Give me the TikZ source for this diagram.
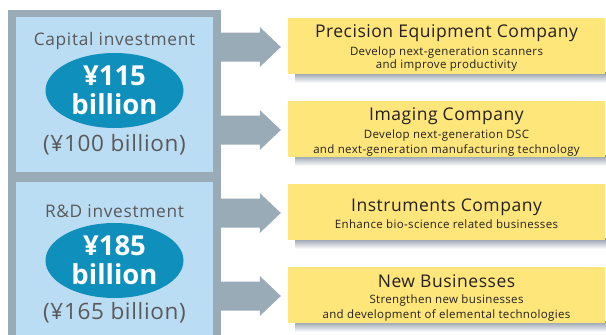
\documentclass[tikz,border=0pt]{standalone}
\usepackage{fontspec}
\setmainfont{Open Sans}
\usetikzlibrary{calc,shapes.geometric}
\definecolor{framegray}{HTML}{9AABB8}
\definecolor{panelblue}{HTML}{BBDDF3}
\definecolor{ovalblue}{HTML}{0E8FBC}
\definecolor{boxyellow}{HTML}{FFE67A}
\definecolor{shadowgray}{HTML}{8E99A6}
\definecolor{labelgray}{HTML}{58595B}
\definecolor{inkdark}{HTML}{231F20}
\begin{document}
\begin{tikzpicture}[x=1pt,y=-1pt,
  frame/.style={fill=framegray, inner sep=0, minimum width=213pt, minimum height=335pt},
  panel/.style={fill=panelblue, inner sep=0, minimum width=197pt},
  oval/.style={ellipse, fill=ovalblue, minimum width=138pt, minimum height=75pt, inner sep=0,
    text=white, font=\bfseries\fontsize{27.5}{30}\selectfont, align=center},
  plabel/.style={anchor=base, inner sep=0, text=labelgray, font=\fontsize{17.3}{19}\selectfont\addfontfeatures{LetterSpace=4}},
  amount/.style={anchor=base, inner sep=0, text=labelgray, font=\fontsize{22.5}{24}\selectfont\addfontfeatures{LetterSpace=3}},
  ybox/.style={fill=boxyellow, inner sep=0, minimum width=317pt, minimum height=56pt},
  title/.style={anchor=base, inner sep=0, text=inkdark, font=\fontsize{17.5}{20}\selectfont\addfontfeatures{LetterSpace=3}},
  sub/.style={anchor=base, inner sep=0, text=inkdark, font=\fontsize{11.5}{13}\selectfont\addfontfeatures{LetterSpace=3}},
  arrowfill/.style={fill=framegray}
]
\clip (0,0) rectangle (606,335);
\fill[white] (0,0) rectangle (606,335);
% left frame and panels
\node[frame] (frm) at (114.5,177.5) {};
\node[panel, minimum height=155pt] (p1) at (114.5,94.5) {};
\node[panel, minimum height=160pt] (p2) at (114.5,262) {};
\node[plabel] (l1) at (114.5,45) {Capital investment};
\node[oval] (o1) at (114.5,90.5) {¥115\\[-1pt]billion};
\node[amount] (a1) at (114.5,151) {(¥100 billion)};
\node[plabel] (l2) at (114.5,217) {R\&D investment};
\node[oval] (o2) at (114.5,260.5) {¥185\\[-1pt]billion};
\node[amount] (a2) at (114.5,319) {(¥165 billion)};
% shadows
\foreach \b/\cy in {b1/46,b2/129,b3/212,b4/295}{
  \shade[top color=shadowgray, bottom color=white] (295,\cy+26) rectangle (612,\cy+37);
}
% yellow boxes
\node[ybox] (b1) at (446.5,46) {};
\node[ybox] (b2) at (446.5,129) {};
\node[ybox] (b3) at (446.5,212) {};
\node[ybox] (b4) at (446.5,295) {};
% arrows from the frame to the boxes
\foreach \b in {b1,b2,b3,b4}{
  \fill[arrowfill] ($(\b.west)+(-70,-13.5)$) -- ++(42,0) -- ++(0,-5.5) -- ++(21,20)
     -- ++(-21,20) -- ++(0,-5.5) -- ++(-42,0) -- cycle;
}
% texts
\node[title] (t1) at (446.5,37) {Precision Equipment Company};
\node[sub] (s1a) at (446.5,55) {Develop next-generation scanners};
\node[sub] (s1b) at (446.5,68) {and improve productivity};
\node[title] (t2) at (446.5,120) {Imaging Company};
\node[sub] (s2a) at (446.5,138) {Develop next-generation DSC};
\node[sub] (s2b) at (446.5,153) {and next-generation manufacturing technology};
\node[title] (t3) at (446.5,211) {Instruments Company};
\node[sub] (s3a) at (446.5,228) {Enhance bio-science related businesses};
\node[title] (t4) at (446.5,287) {New Businesses};
\node[sub] (s4a) at (446.5,303) {Strengthen new businesses};
\node[sub] (s4b) at (446.5,318) {and development of elemental technologies};
\end{tikzpicture}
\end{document}
